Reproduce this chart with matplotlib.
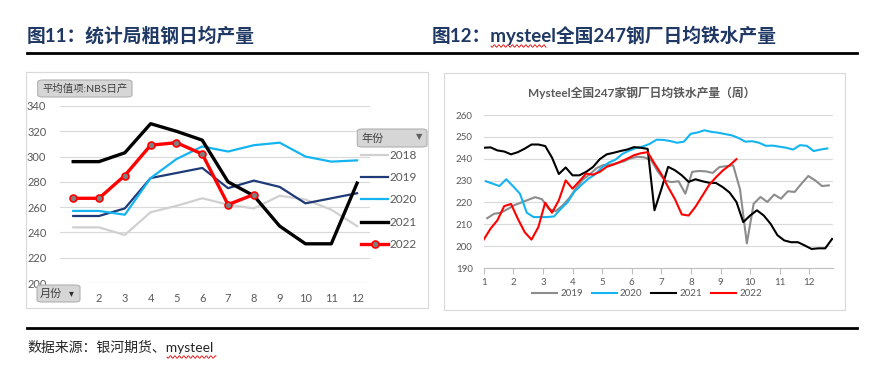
import matplotlib
matplotlib.use("Agg")
import matplotlib.pyplot as plt
import numpy as np
from matplotlib.patches import Rectangle, FancyBboxPatch
from matplotlib.lines import Line2D

W, H = 886, 366
plt.rcParams['font.family'] = ['Lato', 'Noto Sans CJK SC', 'DejaVu Sans']

# ---- left chart: NBS daily crude steel output, monthly ----
MONTHS = list(range(1, 13))
MONTH_LABELS = [""] + [str(m) for m in MONTHS[1:]]   # "1" sits under the 月份 button
NBS = {
    "2018": [244, 244, 238, 256, 261, 267, 262, 259, 269, 266, 258, 245],
    "2019": [253, 253, 259, 283, 287, 291, 275, 281, 276, 263, 267, 271],
    "2020": [257, 257, 254, 283, 298, 308, 304, 309, 311, 300, 296, 297],
    "2021": [296, 296, 303, 326, 320, 313, 280, 269, 245, 231, 231, 279],
    "2022": [267, 267, 285, 309, 311, 302, 262, 270],
}
NBS_COLORS = {"2018": "#D0D0D0", "2019": "#1F3A78", "2020": "#14B4F0",
              "2021": "#000000", "2022": "#FF0000"}
NBS_WIDTHS = {"2018": 1.6, "2019": 1.6, "2020": 1.6, "2021": 2.4, "2022": 2.4}

# ---- right chart: Mysteel 247 mills daily hot metal, weekly ----
WEEK = 12 / 52
HM_START = {"2019": 1.12, "2020": 1.07, "2021": 1.0, "2022": 1.0}
HM = {
    "2019": [212.8, 214.8, 215.3, 217, 218.8, 220, 221.2, 222.4, 221.5, 217, 216,
             218.5, 222, 226.5, 230.5, 232.8, 235.7, 237.1, 237.3, 238, 238.8, 240.2,
             240.9, 240.6, 239.3, 234, 230, 229.3, 229.7, 224, 234, 234.4, 234.2, 233.5,
             236.2, 236.6, 237, 226, 201.3, 219.4, 222.5, 220.2, 223.6, 221.7, 225.1,
             224.8, 228.6, 232.1, 230.1, 227.5, 227.8],
    "2020": [229.7, 228.6, 227.5, 230.6, 227.4, 224, 215.3, 213.3, 213.3, 213.3, 213.6,
             217.1, 220.2, 225, 228, 230.8, 232.8, 236, 238.2, 239.6, 242.2, 243.7, 244.9,
             245.6, 246.8, 248.7, 248.6, 248.1, 247.3, 247.8, 251.4, 252, 253, 252.3,
             251.9, 251.3, 250.7, 249.5, 247.8, 248, 247.3, 245.9, 246, 245.5, 245, 244.2,
             246.2, 245.9, 243.5, 244.2, 244.7],
    "2021": [245, 245.2, 243.8, 243.3, 242, 243, 244.6, 246.5, 246.5, 245.8, 240.5, 233,
             236, 232.4, 232.4, 234, 236.2, 239.8, 242, 242.7, 243.5, 244.2, 245.3, 245,
             244.5, 216.4, 226, 236.3, 234.7, 232.4, 229.4, 230.6, 229.7, 229, 228.9, 227,
             224.5, 220.2, 211, 214, 216.4, 214, 210.2, 205, 202.6, 201.8, 201.8, 200.3,
             198.7, 199, 199, 203.3],
    "2022": [203, 208, 211.8, 218.3, 219.3, 212.5, 206.4, 203, 208.7, 219.9, 215.3, 221,
             230.1, 226.3, 229.7, 233.2, 232.7, 234, 236.3, 237.3, 238.6, 240, 241.6,
             242.5, 243, 237.8, 233, 227, 221.5, 214.5, 214, 218, 223, 228, 231.5, 234.6,
             237, 239.8],
}
HM_COLORS = {"2019": "#8C8C8C", "2020": "#14B4F0", "2021": "#000000", "2022": "#FF0000"}

GRID = "#D9D9D9"
TXT = "#595959"
NAVY = "#1F3864"


def fx(x):
    return x / W


def fy(y):
    return 1 - y / H


def add_button(fig, x0, y0, x1, y1):
    fig.patches.append(FancyBboxPatch(
        (fx(x0), fy(y1)), fx(x1 - x0), (y1 - y0) / H,
        boxstyle="round,pad=0,rounding_size=0.006", transform=fig.transFigure,
        facecolor="#D6D6D6", edgecolor="#B0B0B0", linewidth=0.8, zorder=5))


def wavy(fig, x0, x1, y):
    xs = np.linspace(x0, x1, 60)
    ys = y + 1.3 * np.sin((xs - x0) / 4.5 * 2 * np.pi)
    fig.add_artist(Line2D(fx(xs), fy(ys), color="#E00000", lw=0.6,
                          transform=fig.transFigure))


fig = plt.figure(figsize=(W / 100, H / 100), dpi=100)
fig.patch.set_facecolor("white")

# headings and rules
fig.text(fx(27), fy(35), "图11：统计局粗钢日均产量", fontsize=13.5, fontweight="bold",
         color=NAVY, va="center", ha="left")
fig.text(fx(432), fy(35), "图12：mysteel全国247钢厂日均铁水产量", fontsize=13.5,
         fontweight="bold", color=NAVY, va="center", ha="left")
wavy(fig, 491, 546, 46)
fig.add_artist(Line2D([fx(27), fx(857)], [fy(53), fy(53)], color="black", lw=2,
                      transform=fig.transFigure))
fig.add_artist(Line2D([fx(27), fx(857)], [fy(328), fy(328)], color="black", lw=2,
                      transform=fig.transFigure))
fig.text(fx(27), fy(347), "数据来源：银河期货、mysteel", fontsize=10, color="#262626",
         va="center", ha="left")
wavy(fig, 167, 216, 357)

# chart frames
for x0, y0, x1, y1 in [(26, 72, 428, 308), (444, 73, 845, 310)]:
    fig.patches.append(Rectangle((fx(x0), fy(y1)), fx(x1 - x0), (y1 - y0) / H,
                                 transform=fig.transFigure, fill=False,
                                 edgecolor="#D9D9D9", lw=0.8))

# ---- left chart ----
ax1 = fig.add_axes([fx(60.3), fy(283), fx(370 - 60.3), (283 - 106) / H])
for yr, vals in NBS.items():
    kw = {}
    if yr == "2022":
        kw = dict(marker="o", markersize=5, markerfacecolor="#7F7F7F",
                  markeredgecolor="#FF0000", markeredgewidth=1.2)
    ax1.plot(MONTHS[:len(vals)], vals, color=NBS_COLORS[yr], lw=NBS_WIDTHS[yr],
             label=yr, zorder=3, **kw)
ax1.set_xlim(0.5, 12.5)
ax1.set_ylim(200, 340)
ax1.set_yticks(range(200, 341, 20))
ax1.set_xticks(MONTHS)
ax1.set_xticklabels(MONTH_LABELS)
ax1.grid(axis="y", color=GRID, lw=0.8)
ax1.set_axisbelow(True)
for s in ax1.spines.values():
    s.set_visible(False)
ax1.tick_params(axis="y", length=0, pad=10, labelsize=8, labelcolor=TXT)
ax1.tick_params(axis="x", length=0, pad=7, labelsize=8, labelcolor=TXT)
ax1.legend(loc="upper left", bbox_to_anchor=(fx(361), fy(150)),
           bbox_transform=fig.transFigure, frameon=False, fontsize=8.5,
           handlelength=2.3, handletextpad=0.15, labelspacing=0.95,
           borderpad=0, borderaxespad=0, labelcolor=TXT)

add_button(fig, 37.7, 80, 132, 97)
fig.text(fx(42), fy(88.5), "平均值项:NBS日产", fontsize=7.5, color="#404040",
         va="center", ha="left", zorder=6)
add_button(fig, 357.3, 129, 427, 147)
fig.text(fx(361), fy(138), "年份", fontsize=8, color="#404040", va="center",
         ha="left", zorder=6)
fig.text(fx(419), fy(137), "▼", fontsize=6, color="#606060", va="center",
         ha="center", family="DejaVu Sans", zorder=6)
add_button(fig, 37, 285, 80, 302)
fig.text(fx(40), fy(293.5), "月份", fontsize=8, color="#404040", va="center",
         ha="left", zorder=6)
fig.text(fx(71), fy(293.5), "▾", fontsize=7, color="#303030", va="center",
         ha="center", family="DejaVu Sans", zorder=6)

# ---- right chart ----
ax2 = fig.add_axes([fx(483.7), fy(268), fx(833 - 483.7), (268 - 115) / H])
for yr, vals in HM.items():
    xs = HM_START[yr] + WEEK * np.arange(len(vals))
    ax2.plot(xs, vals, color=HM_COLORS[yr], lw=1.5, label=yr, zorder=3)
ax2.set_xlim(1, 12.8)
ax2.set_ylim(190, 260)
ax2.set_yticks(range(190, 261, 10))
ax2.set_xticks(MONTHS)
ax2.grid(axis="y", color=GRID, lw=0.8)
ax2.set_axisbelow(True)
for k, s in ax2.spines.items():
    s.set_visible(k == "bottom")
ax2.spines["bottom"].set_color("#BFBFBF")
ax2.spines["bottom"].set_linewidth(0.8)
ax2.tick_params(axis="y", length=0, pad=8, labelsize=7, labelcolor=TXT)
ax2.tick_params(axis="x", length=4, width=0.8, color="#BFBFBF", pad=3,
                labelsize=7, labelcolor=TXT)
fig.text(fx(642), fy(93), "Mysteel全国247家钢厂日均铁水产量（周）", fontsize=8.5,
         fontweight="bold", color=TXT, va="center", ha="center")
ax2.legend(loc="center", bbox_to_anchor=(fx(647), fy(294)),
           bbox_transform=fig.transFigure, ncol=4, frameon=False, fontsize=7,
           handlelength=2.6, handletextpad=0.3, columnspacing=0.9,
           borderpad=0, labelcolor=TXT)

fig.savefig("out.png", dpi=100)
